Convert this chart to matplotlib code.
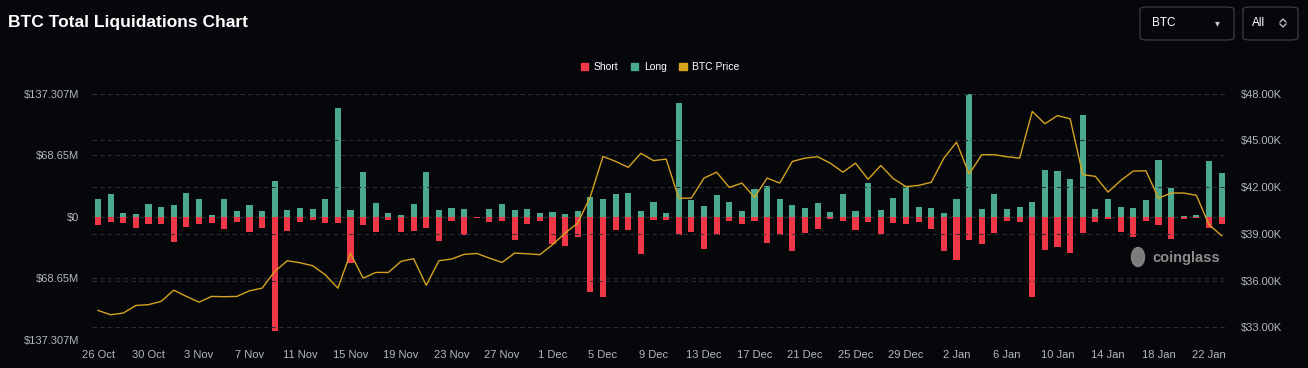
import numpy as np
import pandas as pd
import matplotlib
matplotlib.use("Agg")
import matplotlib.pyplot as plt
from matplotlib.patches import Patch, FancyBboxPatch, Ellipse
from matplotlib.lines import Line2D
from matplotlib.ticker import FuncFormatter, FixedLocator

plt.rcParams["font.family"] = ["Liberation Sans", "DejaVu Sans"]

# daily data, 26 Oct 2023 .. 23 Jan 2024
dates = pd.date_range("2023-10-26", periods=90, freq="D")

long_liq = [20.3, 25.0, 4.3, 3.5, 14.0, 10.6, 12.8, 26.6, 19.9, 1.7,
            19.9, 6.5, 13.6, 6.9, 40.0, 8.0, 9.9, 8.4, 19.5, 120.8,
            8.0, 50.0, 15.4, 4.2, 2.0, 14.3, 49.7, 8.0, 9.8, 9.1,
            0.3, 8.7, 14.0, 7.3, 8.7, 4.7, 5.4, 3.3, 6.5, 21.8,
            20.3, 25.1, 27.0, 7.0, 17.0, 4.3, 127.0, 19.2, 12.5, 24.3,
            17.0, 6.1, 30.7, 34.0, 20.3, 13.2, 10.3, 15.8, 5.0, 25.9,
            6.1, 37.7, 7.6, 21.4, 34.0, 11.0, 10.3, 4.0, 20.3, 137.3,
            8.4, 25.9, 8.4, 11.4, 16.5, 51.9, 50.8, 42.6, 113.3, 8.4,
            19.9, 10.6, 10.3, 18.4, 63.8, 32.6, 0.4, 2.2, 62.3, 49.1]

short_liq = [8.7, 5.4, 6.9, 12.5, 8.0, 7.6, 27.7, 11.0, 7.6, 6.9,
             13.6, 6.1, 16.9, 12.5, 127.5, 16.2, 5.2, 3.2, 6.9, 7.2,
             51.0, 8.7, 17.3, 3.9, 16.9, 15.4, 12.5, 27.3, 4.7, 19.9,
             1.2, 5.4, 4.7, 26.2, 8.4, 5.0, 30.7, 32.1, 22.5, 84.3,
             89.9, 14.3, 15.1, 41.9, 3.9, 3.5, 20.3, 16.5, 35.5, 20.3,
             5.0, 7.6, 5.0, 29.6, 19.9, 38.5, 18.1, 13.6, 2.8, 4.7,
             14.3, 5.4, 19.2, 6.9, 8.0, 5.8, 13.2, 38.5, 48.6, 26.2,
             30.3, 17.6, 4.3, 5.4, 89.5, 36.6, 33.7, 40.0, 17.6, 5.8,
             2.2, 16.9, 22.5, 5.0, 8.7, 25.2, 2.2, 1.1, 12.8, 7.6]

btc_price = [34080, 33800, 33910, 34400, 34450, 34660, 35380, 34980, 34610, 34980,
             34960, 34980, 35340, 35510, 36590, 37270, 37140, 36950, 36370, 35510,
             37760, 36150, 36520, 36520, 37230, 37400, 35690, 37270, 37380, 37680,
             37740, 37440, 37160, 37760, 37720, 37660, 38300, 39050, 39690, 41400,
             43970, 43650, 43270, 44170, 43700, 43800, 41290, 41290, 42580, 42960,
             41980, 42260, 41340, 42580, 42260, 43650, 43860, 43950, 43540, 42960,
             43540, 42500, 43390, 42540, 42030, 42110, 42310, 43860, 44890, 42840,
             44080, 44080, 43950, 43860, 46860, 46070, 46590, 46390, 42800, 42690,
             41680, 42420, 43030, 43050, 41290, 41620, 41620, 41470, 39590, 38880]

left_ticks = [-137.307, -68.65, 0, 68.65, 137.307]
right_ticks = [33000, 36000, 39000, 42000, 45000, 48000]

bg = "#05070b"
green = "#4aa98f"
red = "#ef3748"
gold = "#d6a21f"
txt = "#b4b7bd"
grid = "#2b2e35"

fig = plt.figure(figsize=(13.08, 3.68), dpi=100, facecolor=bg)
ax = fig.add_axes([0.0701, 0.0761, 0.8687, 0.6693])
ax.set_facecolor(bg)
ax2 = ax.twinx()

x = np.arange(len(dates))
ax.bar(x, long_liq, width=0.48, color=green, zorder=2)
ax.bar(x, -np.array(short_liq), width=0.48, color=red, zorder=2)

ax2.plot(x, btc_price, color=gold, lw=1.0, zorder=3)

ax.set_xlim(-0.5, 89.5)
ax.set_ylim(-137.307, 137.307)
ax2.set_ylim(32180, 48000)

ax.yaxis.set_major_locator(FixedLocator(left_ticks))
ax.yaxis.set_major_formatter(FuncFormatter(
    lambda v, p: "$0" if abs(v) < 1e-9 else ("$%gM" % abs(v))))
ax2.yaxis.set_major_locator(FixedLocator(right_ticks))
ax2.yaxis.set_major_formatter(FuncFormatter(lambda v, p: "$%.2fK" % (v / 1000)))

xt = x[::4]
ax.set_xticks(xt)
ax.set_xticklabels([f"{d.day} {d.strftime('%b')}" for d in dates[::4]])

for a in (ax, ax2):
    a.tick_params(length=0, colors=txt, labelsize=8)
    for s in a.spines.values():
        s.set_visible(False)
ax.tick_params(axis="y", pad=9)
ax2.tick_params(axis="y", pad=9)
ax.tick_params(axis="x", pad=7)
ax.grid(axis="y", color=grid, ls=(0, (4, 3)), lw=0.8, zorder=0)
ax2.grid(axis="y", color=grid, ls=(0, (4, 3)), lw=0.8, zorder=0)
ax.set_axisbelow(True)
ax2.set_zorder(ax.get_zorder() + 1)
ax2.patch.set_visible(False)

# title
fig.text(8 / 1308, 1 - 22 / 368, "BTC Total Liquidations Chart", color="white",
         fontsize=12.5, fontweight="bold", va="center", ha="left")

# legend
handles = [Patch(color=red, label="Short"), Patch(color=green, label="Long"),
           Patch(color=gold, label="BTC Price")]
fig.legend(handles=handles, loc="center", bbox_to_anchor=(660 / 1308, 1 - 67 / 368),
           ncol=3, frameon=False, fontsize=7.5, labelcolor="white",
           handlelength=0.75, handleheight=0.75, handletextpad=0.5, columnspacing=1.2)

# selector boxes
W, H = 1308, 368
def box(x0, x1, y0, y1):
    fig.add_artist(FancyBboxPatch((x0 / W, 1 - y1 / H), (x1 - x0) / W, (y1 - y0) / H,
                                  boxstyle="round,pad=0,rounding_size=0.006",
                                  transform=fig.transFigure, facecolor=bg,
                                  edgecolor="#3a3d44", lw=0.9))
box(1140, 1234, 7, 40)
box(1243, 1298, 7, 40)
fig.text(1152 / W, 1 - 23 / H, "BTC", color="white", fontsize=8.5, va="center")
fig.text(1217 / W, 1 - 23 / H, "\u25BE", color="#c8c8c8", fontsize=7, va="center",
         ha="center", family="DejaVu Sans")
fig.text(1252 / W, 1 - 23 / H, "All", color="white", fontsize=8.5, va="center")
for yy, dy in ((19, 3), (27, -3)):
    fig.add_artist(Line2D([1280 / W, 1283 / W, 1286 / W],
                          [1 - (yy + dy) / H, 1 - yy / H, 1 - (yy + dy) / H],
                          transform=fig.transFigure, color="#c8c8c8", lw=0.9))

# watermark
fig.add_artist(Ellipse((1138 / W, 1 - 257 / H), 13 / W, 19 / H,
                       transform=fig.transFigure, color="#8a8a8a", alpha=0.9))
fig.text(1152 / W, 1 - 258 / H, "coinglass", color="#8c8c8c", fontsize=10.5,
         fontweight="bold", va="center", ha="left")

fig.savefig("out.png", dpi=100, facecolor=bg)
